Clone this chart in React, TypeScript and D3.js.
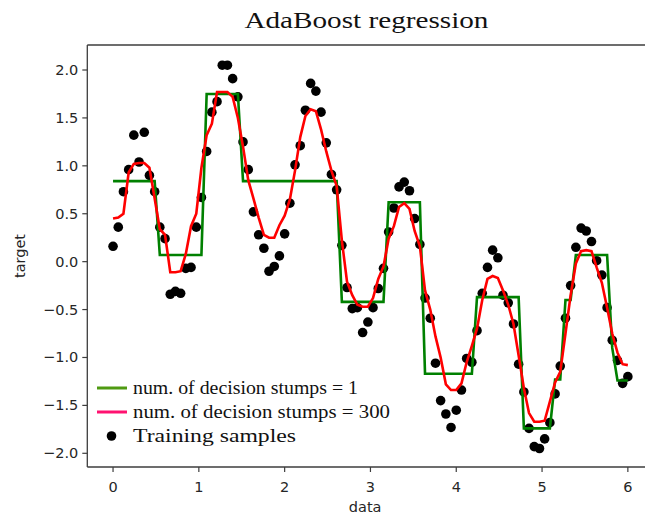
import React from "react";
import * as d3 from "d3";

const X = [
  0, 0.061, 0.121, 0.182, 0.242, 0.303, 0.364, 0.424, 0.485, 0.545,
  0.606, 0.667, 0.727, 0.788, 0.848, 0.909, 0.97, 1.03, 1.091, 1.152,
  1.212, 1.273, 1.333, 1.394, 1.455, 1.515, 1.576, 1.636, 1.697, 1.758,
  1.818, 1.879, 1.939, 2.0, 2.061, 2.121, 2.182, 2.242, 2.303, 2.364,
  2.424, 2.485, 2.545, 2.606, 2.667, 2.727, 2.788, 2.848, 2.909, 2.97,
  3.03, 3.091, 3.152, 3.212, 3.273, 3.333, 3.394, 3.455, 3.515, 3.576,
  3.636, 3.697, 3.758, 3.818, 3.879, 3.939, 4.0, 4.061, 4.121, 4.182,
  4.242, 4.303, 4.364, 4.424, 4.485, 4.545, 4.606, 4.667, 4.727, 4.788,
  4.848, 4.909, 4.97, 5.03, 5.091, 5.152, 5.212, 5.273, 5.333, 5.394,
  5.455, 5.515, 5.576, 5.636, 5.697, 5.758, 5.818, 5.879, 5.939, 6.0,
];

const yTrain = [
  0.16, 0.36, 0.73, 0.96, 1.32, 1.04, 1.35, 0.9, 0.73, 0.36,
  0.24, -0.34, -0.31, -0.33, -0.07, -0.06, 0.36, 0.67, 1.15, 1.56,
  1.67, 2.05, 2.05, 1.91, 1.72, 1.25, 0.96, 0.52, 0.28, 0.14,
  -0.1, -0.05, 0.06, 0.29, 0.61, 1.01, 1.21, 1.58, 1.86, 1.78,
  1.56, 1.24, 0.91, 0.75, 0.17, -0.27, -0.49, -0.48, -0.74, -0.63,
  -0.48, -0.28, -0.07, 0.31, 0.56, 0.78, 0.83, 0.74, 0.45, 0.18,
  -0.38, -0.59, -1.06, -1.45, -1.59, -1.73, -1.55, -1.34, -1.01, -1.05,
  -0.72, -0.33, -0.06, 0.12, 0.04, -0.35, -0.43, -0.65, -1.07, -1.36,
  -1.74, -1.93, -1.95, -1.85, -1.68, -1.38, -1.09, -0.59, -0.25, 0.15,
  0.35, 0.32, 0.21, 0.01, -0.14, -0.48, -0.82, -1.03, -1.27, -1.2,
];

const yStumps1 = [
  0.84, 0.84, 0.84, 0.84, 0.84, 0.84, 0.84, 0.84, 0.84, 0.07,
  0.07, 0.07, 0.07, 0.07, 0.07, 0.07, 0.07, 0.07, 1.75, 1.75,
  1.75, 1.75, 1.75, 1.75, 1.75, 0.84, 0.84, 0.84, 0.84, 0.84,
  0.84, 0.84, 0.84, 0.84, 0.84, 0.84, 0.84, 0.84, 0.84, 0.84,
  0.84, 0.84, 0.84, 0.84, -0.42, -0.42, -0.42, -0.42, -0.42, -0.42,
  -0.42, -0.42, -0.42, 0.62, 0.62, 0.62, 0.62, 0.62, 0.62, 0.62,
  -1.17, -1.17, -1.17, -1.17, -1.17, -1.17, -1.17, -1.17, -1.17, -1.17,
  -0.37, -0.37, -0.37, -0.37, -0.37, -0.37, -0.37, -0.37, -0.37, -1.74,
  -1.74, -1.74, -1.74, -1.74, -1.74, -1.23, -1.23, -0.4, -0.4, 0.07,
  0.07, 0.07, 0.07, 0.07, 0.07, 0.07, -0.9, -1.24, -1.24, -1.24,
];

const yStumps300 = [
  0.45, 0.46, 0.5, 0.93, 1.02, 1.03, 1.03, 0.98, 0.66, 0.34,
  0.28, -0.11, -0.11, -0.1, 0.08, 0.37, 0.5, 0.98, 1.32, 1.44,
  1.77, 1.77, 1.77, 1.72, 1.5, 1.2, 0.85, 0.66, 0.46, 0.28,
  0.25, 0.25, 0.38, 0.48, 0.65, 0.95, 1.3, 1.52, 1.59, 1.57,
  1.38, 1.15, 0.95, 0.79, 0.22, -0.21, -0.35, -0.45, -0.47, -0.47,
  -0.38, -0.18, -0.05, 0.24, 0.37, 0.57, 0.61, 0.55, 0.32, 0.16,
  -0.3, -0.5, -0.78, -1.0, -1.28, -1.34, -1.34, -1.27, -1.05, -0.88,
  -0.7, -0.4, -0.18, -0.15, -0.17, -0.3, -0.45, -0.65, -0.98, -1.32,
  -1.58, -1.67, -1.67, -1.66, -1.46, -1.26, -1.15, -0.75, -0.35, -0.02,
  0.11, 0.12, 0.11, -0.06, -0.22, -0.48, -0.75, -0.95, -1.07, -1.08,
];

const xTicks = [0, 1, 2, 3, 4, 5, 6];
const yTicks = [-2, -1.5, -1, -0.5, 0, 0.5, 1, 1.5, 2];
const legendLabels = [
  "num. of decision stumps = 1",
  "num. of decision stumps = 300",
  "Training samples",
];

const W = 645;
const H = 516;
const L = 87.3;
const R = 653.6;
const T = 45;
const B = 467;

export default function App() {
  const x = d3.scaleLinear().domain([-0.3, 6.3]).range([L, R]);
  const y = d3.scaleLinear().domain([-2.143, 2.261]).range([B, T]);

  const lineGen = (vals: number[]) =>
    d3
      .line<number>()
      .x((_, i) => x(X[i]))
      .y((v) => y(v))(vals) || "";

  const fmt = (v: number) => {
    const s = Math.abs(v).toFixed(1);
    return v < 0 ? "\u2212" + s : s;
  };

  const serif = "'Liberation Serif', 'DejaVu Serif', serif";
  const sans = "'DejaVu Sans', sans-serif";
  const txt = "#262626";
  const spine = "#3d3d3d";

  const legendRows = [388, 412, 436];
  const legendWidths = [225, 257, 163];

  return (
    <svg
      width={W}
      height={H}
      style={{ position: "absolute", left: 0, top: 0, background: "#fff" }}
    >
      <rect x={0} y={0} width={W} height={H} fill="#fff" />
      {/* title */}
      <text
        x={(L + R) / 2 - 4}
        y={28}
        textAnchor="middle"
        fontFamily={serif}
        fontSize={23}
        textLength={244}
        lengthAdjust="spacingAndGlyphs"
        fill="#111"
      >
        AdaBoost regression
      </text>

      {/* scatter */}
      <g>
        {yTrain.map((v, i) => (
          <circle key={i} cx={x(X[i])} cy={y(v)} r={4.8} fill="#000" />
        ))}
      </g>

      {/* lines */}
      <path d={lineGen(yStumps1)} fill="none" stroke="#008000" strokeWidth={2.6} />
      <path d={lineGen(yStumps300)} fill="none" stroke="#ff0000" strokeWidth={2.6} />

      {/* spines */}
      <line x1={L} y1={T} x2={L} y2={B} stroke={spine} strokeWidth={1.3} />
      <line x1={L} y1={B} x2={W} y2={B} stroke={spine} strokeWidth={1.3} />
      <line x1={L} y1={T} x2={W} y2={T} stroke={spine} strokeWidth={1.3} />

      {/* y ticks */}
      {yTicks.map((t) => (
        <g key={"y" + t}>
          <line x1={L - 5} x2={L} y1={y(t)} y2={y(t)} stroke={spine} strokeWidth={1.2} />
          <text
            x={L - 9}
            y={y(t) + 5}
            textAnchor="end"
            fontFamily={sans}
            fontSize={14.5}
            fill={txt}
          >
            {fmt(t)}
          </text>
        </g>
      ))}

      {/* x ticks */}
      {xTicks.map((t) => (
        <g key={"x" + t}>
          <line x1={x(t)} x2={x(t)} y1={B} y2={B + 5} stroke={spine} strokeWidth={1.2} />
          <text
            x={x(t)}
            y={B + 25}
            textAnchor="middle"
            fontFamily={sans}
            fontSize={14.5}
            fill={txt}
          >
            {t}
          </text>
        </g>
      ))}

      {/* axis labels */}
      <text
        x={(L + W) / 2 - 1}
        y={512}
        textAnchor="middle"
        fontFamily={sans}
        fontSize={14.5}
        fill={txt}
      >
        data
      </text>
      <text
        transform={`translate(25, ${(T + B) / 2}) rotate(-90)`}
        textAnchor="middle"
        fontFamily={sans}
        fontSize={14.5}
        fill={txt}
      >
        target
      </text>

      {/* legend */}
      <line x1={97} x2={127} y1={legendRows[0]} y2={legendRows[0]} stroke="#4f9a12" strokeWidth={3} />
      <line x1={97} x2={127} y1={legendRows[1]} y2={legendRows[1]} stroke="#ff1270" strokeWidth={3} />
      <circle cx={111.5} cy={legendRows[2]} r={4.8} fill="#000" />
      {legendLabels.map((lab, i) => (
        <text
          key={lab}
          x={133}
          y={legendRows[i] + 6}
          fontFamily={serif}
          fontSize={19}
          textLength={legendWidths[i]}
          lengthAdjust="spacingAndGlyphs"
          fill="#111"
        >
          {lab}
        </text>
      ))}
    </svg>
  );
}
